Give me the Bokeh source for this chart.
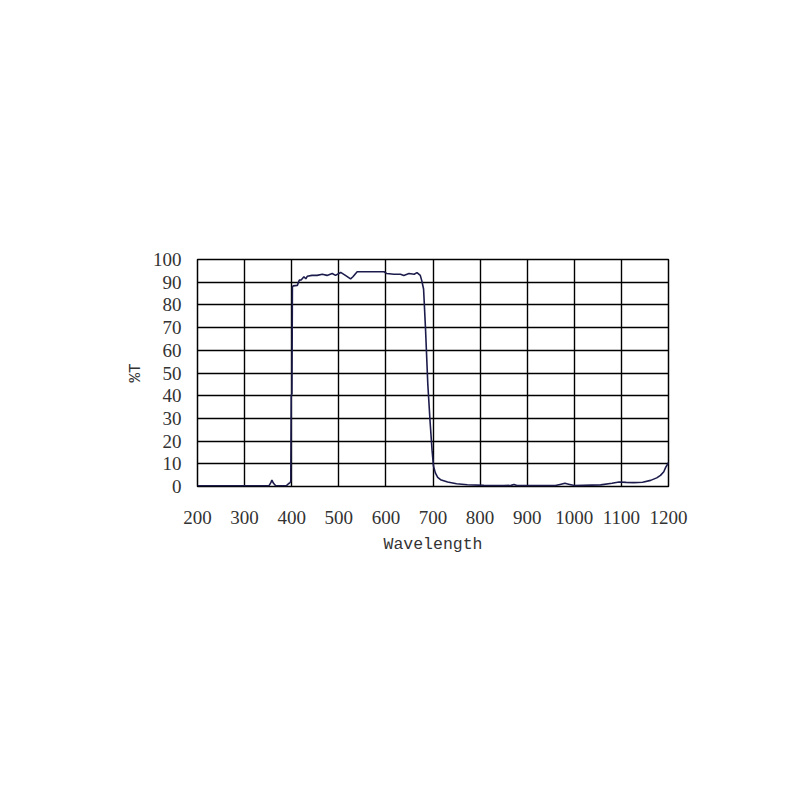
import math
from bokeh.plotting import figure
from bokeh.models import Range1d, FixedTicker
from bokeh.embed import file_html
from bokeh.resources import INLINE

wavelength = [200, 250, 300, 340, 352, 356, 358, 361, 366, 380, 389, 393, 396, 398, 399, 400.5, 401.5,
              403, 412, 416, 420, 426, 430, 433, 443, 454, 465, 475, 486, 493, 504, 514, 525, 530,
              539, 596, 602, 617, 631, 638, 649, 660, 666, 673, 676, 680, 684, 689, 694, 698,
              701, 705, 710, 716, 731, 750, 773, 808, 850, 866, 872, 878, 960, 972, 980, 988,
              1000, 1056, 1080, 1095, 1110, 1126, 1145, 1162, 1175, 1183, 1190, 1194, 1198, 1200]
transmittance = [0.3, 0.3, 0.3, 0.3, 0.4, 1.8, 2.8, 1.5, 0.3, 0.3, 0.4, 1.2, 1.6, 2.2, 40, 41, 87.8,
                 88.4, 88.6, 90.9, 91.0, 92.4, 91.5, 92.6, 93.0, 93.0, 93.5, 93.0, 93.8, 93.0, 94.3, 93.0, 91.5, 92.4,
                 94.6, 94.6, 93.8, 93.5, 93.5, 93.0, 93.8, 93.5, 94.2, 93.0, 90.8, 87, 70, 45, 28, 16,
                 9, 6, 4, 3, 2, 1.2, 0.8, 0.5, 0.4, 0.5, 0.9, 0.4, 0.4, 1.0, 1.4, 1.0,
                 0.4, 0.7, 1.4, 2.0, 1.8, 1.7, 1.9, 2.7, 3.8, 4.9, 6.5, 8.4, 9.8, 10.5]

x_ticks = [200, 300, 400, 500, 600, 700, 800, 900, 1000, 1100, 1200]
y_ticks = [0, 10, 20, 30, 40, 50, 60, 70, 80, 90, 100]
x_title = "Wavelength"
y_title = "%T"

W, H = 780, 700
p = figure(width=W, height=H, output_backend="svg", toolbar_location=None,
           x_range=Range1d(200, 1200), y_range=Range1d(0, 100),
           min_border_left=197, min_border_right=W - 668,
           min_border_top=259, min_border_bottom=H - 486)
p.background_fill_color = "white"
p.border_fill_color = "white"
p.outline_line_color = "black"
p.outline_line_width = 1.5

p.line(wavelength, transmittance, line_color="#1c1c4c", line_width=1.6)

for ax in (p.xaxis[0], p.yaxis[0]):
    ax.axis_line_color = None
    ax.major_tick_line_color = None
    ax.minor_tick_line_color = None
    ax.major_label_text_font = "Liberation Serif"
    ax.major_label_text_font_size = "19px"
    ax.major_label_text_color = "#333333"
    ax.axis_label_text_font = "Liberation Mono"
    ax.axis_label_text_font_style = "normal"
    ax.axis_label_text_color = "#333333"

p.xaxis.ticker = FixedTicker(ticks=x_ticks)
p.yaxis.ticker = FixedTicker(ticks=y_ticks)
p.xaxis.major_label_standoff = 18
p.yaxis.major_label_standoff = 10

p.xaxis.axis_label = x_title
p.xaxis.axis_label_text_font_size = "16.5px"
p.xaxis.axis_label_standoff = 8

yax = p.yaxis[0]
yax.axis_label = y_title
yax.axis_label_text_font_size = "16px"
yax.axis_label_standoff = 5

for g in (p.xgrid[0], p.ygrid[0]):
    g.grid_line_color = "black"
    g.grid_line_width = 1.4
    g.grid_line_alpha = 1.0
p.xgrid.ticker = FixedTicker(ticks=x_ticks)
p.ygrid.ticker = FixedTicker(ticks=y_ticks)

open("out.html", "w").write(file_html(p, INLINE))
